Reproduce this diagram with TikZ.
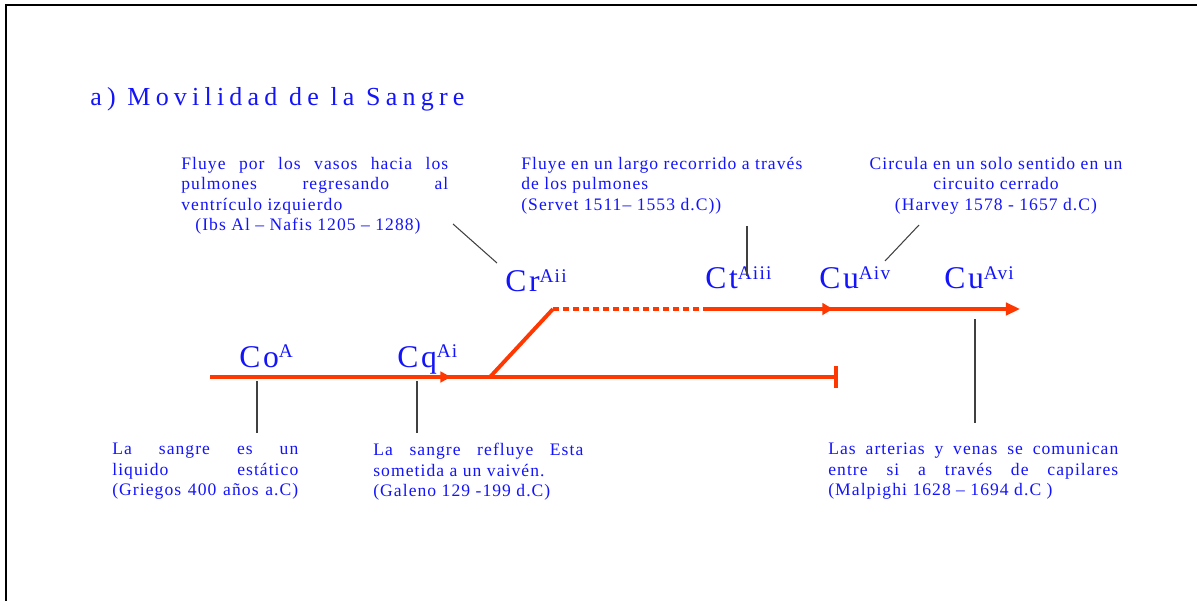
\documentclass[tikz,border=0pt]{standalone}
\usepackage{fontspec}
\usepackage{tikz}
\usetikzlibrary{arrows.meta}
\setmainfont{Liberation Serif}
\newfontfamily\spacedfont[LetterSpace=6]{Liberation Serif}
\newfontfamily\titlefont[LetterSpace=20]{Liberation Serif}
\newfontfamily\stagefont[LetterSpace=6]{Liberation Serif}
\definecolor{txtblue}{RGB}{20,20,250}
\definecolor{bloodred}{RGB}{255,55,0}
\newcommand{\jline}[2]{\makebox[#1][s]{#2}}
\newcommand{\stagelbl}[2]{{\fontsize{18}{18}\selectfont C\kern1.5pt #1}\raisebox{5.2pt}{\fontsize{11}{11}\selectfont #2}}
\tikzset{
  flow/.style = {draw=bloodred, line width=2.2pt},
  tick/.style = {draw=black!75, line width=0.6pt},
  note/.style = {inner sep=0pt, text=txtblue, font=\spacedfont\fontsize{10}{11.6}\selectfont},
  stage/.style = {inner sep=0pt, anchor=base west, text=txtblue, font=\stagefont}
}

\begin{document}
\begin{tikzpicture}[x=0.02cm, y=-0.02cm]
\useasboundingbox (0,0) rectangle (1197,601);
\coordinate (f0) at (6,601);
\coordinate (f1) at (6,5);
\coordinate (f2) at (1197,5);
\draw[line width=1.1pt] (f0) -- (f1) -- (f2);

\node[inner sep=0pt, anchor=base west, text=txtblue, font=\titlefont\fontsize{14.8}{15}\selectfont] (title) at (90,106) {a) Movilidad de la Sangre};

\node[stage] (co) at (239,367) {\stagelbl{o}{A}};
\node[stage] (cq) at (397,367) {\stagelbl{q}{Ai}};
\node[stage] (cr) at (505,292) {\stagelbl{r}{Aii}};
\node[stage] (ct) at (705,289) {\stagelbl{t}{Aiii}};
\node[stage] (cu) at (819,289) {\stagelbl{u}{Aiv}};
\node[stage] (cv) at (944,289) {\stagelbl{u}{Avi}};

\coordinate (a0) at (210,377);
\coordinate (a1) at (451,377);
\coordinate (a2) at (490,377);
\coordinate (a3) at (838,377);
\coordinate (b0) at (553,309);
\coordinate (b1) at (706,309);
\coordinate (b2) at (833,309);
\coordinate (b3) at (1020,309);
\draw[flow, -{Bar[width=12pt]}] (a0) -- (a3);
\draw[flow, -{Triangle[length=6pt, width=6pt]}] (a0) -- (a1);
\draw[flow] (a2) -- (b0);
\draw[flow, dash pattern=on 3.4pt off 2.3pt] (b0) -- (b1);
\draw[flow, -{Triangle[length=8pt, width=7pt]}] (b1) -- (b3);
\draw[flow, -{Triangle[length=6pt, width=6.5pt]}] (b1) -- (b2);

\node[note, anchor=north west, align=left] (t1) at (181,157)
  {\jline{5.34cm}{Fluye por los vasos hacia los}\\
   \jline{5.34cm}{pulmones regresando al}\\
   ventrículo izquierdo\\
   \hspace*{8pt}(Ibs Al – Nafis 1205 – 1288)};
\node[note, anchor=north west, align=left] (t2) at (521,157)
  {Fluye en un largo recorrido a través\\
   de los pulmones\\
   (Servet 1511– 1553 d.C))};
\node[note, anchor=north, align=center] (t3) at (996,157)
  {Circula en un solo sentido en un\\
   circuito cerrado\\
   (Harvey 1578 - 1657 d.C)};
\node[note, anchor=north west, align=left] (t4) at (112,443)
  {\jline{3.72cm}{La sangre es un}\\
   \jline{3.72cm}{liquido estático}\\
   \jline{3.72cm}{(Griegos 400 años a.C)}};
\node[note, anchor=north west, align=left] (t5) at (373,443)
  {\jline{4.2cm}{La sangre refluye Esta}\\
   sometida a un vaivén.\\
   (Galeno 129 -199 d.C)};
\node[note, anchor=north west, align=left] (t6) at (828,443)
  {\jline{5.8cm}{Las arterias y venas se comunican}\\
   \jline{5.8cm}{entre si a través de capilares}\\
   (Malpighi 1628 – 1694 d.C )};

\coordinate (k1a) at (257,381);
\coordinate (k1b) at (257,433);
\coordinate (k2a) at (417,381);
\coordinate (k2b) at (417,433);
\coordinate (k3a) at (453,224);
\coordinate (k3b) at (497,263);
\coordinate (k4a) at (747,226);
\coordinate (k4b) at (747,276);
\coordinate (k5a) at (919,225);
\coordinate (k5b) at (885,261);
\coordinate (k6a) at (975,319);
\coordinate (k6b) at (975,423);
\draw[tick] (k1a) -- (k1b);
\draw[tick] (k2a) -- (k2b);
\draw[tick] (k3a) -- (k3b);
\draw[tick] (k4a) -- (k4b);
\draw[tick] (k5a) -- (k5b);
\draw[tick] (k6a) -- (k6b);
\end{tikzpicture}
\end{document}
